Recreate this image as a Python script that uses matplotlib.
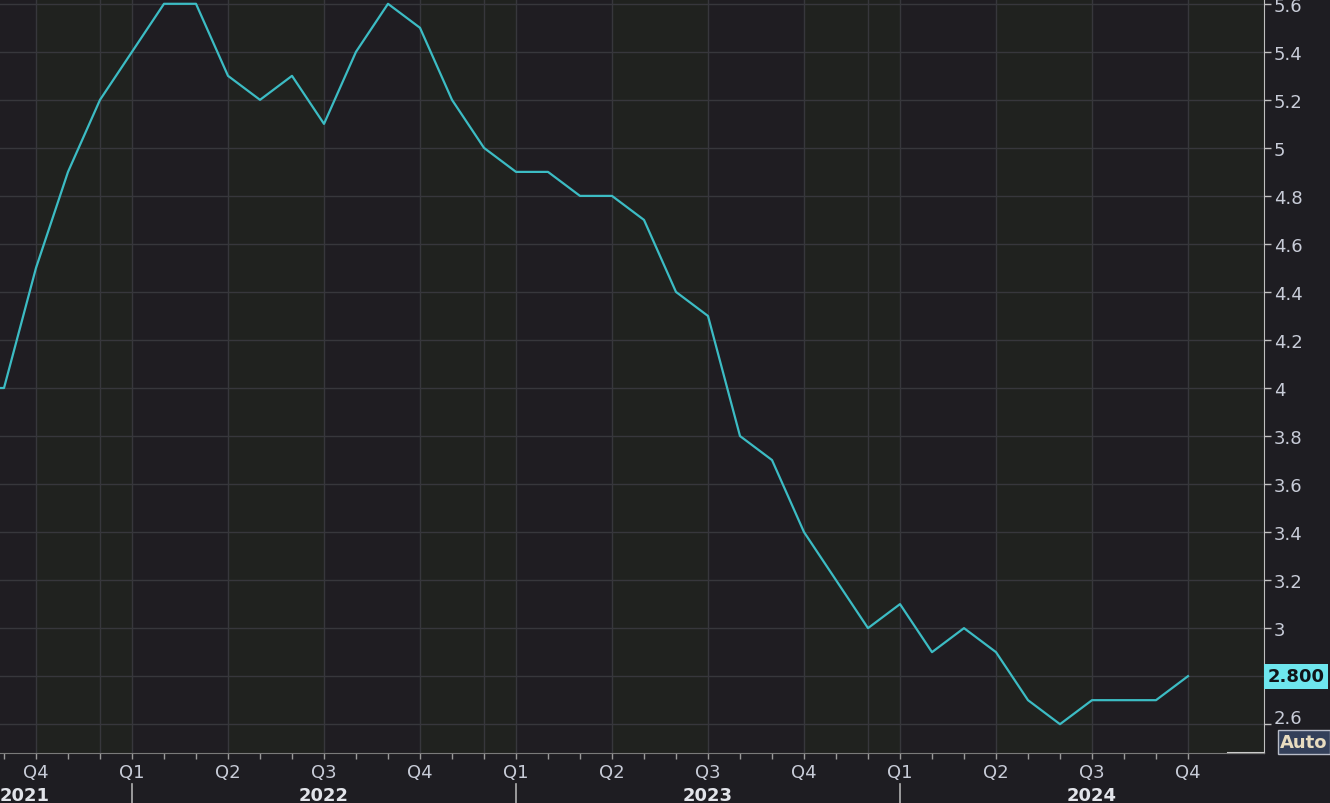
import matplotlib
matplotlib.use('Agg')
import matplotlib.pyplot as plt
import matplotlib.transforms as mtransforms
import pandas as pd

# Monthly series, Aug 2021 .. Oct 2024
months = pd.date_range('2021-08-01', periods=39, freq='MS')
values = [4.0, 4.0, 4.5, 4.9, 5.2, 5.4, 5.6, 5.6, 5.3, 5.2, 5.3, 5.1, 5.4,
          5.6, 5.5, 5.2, 5.0, 4.9, 4.9, 4.8, 4.8, 4.7, 4.4, 4.3, 3.8, 3.7,
          3.4, 3.2, 3.0, 3.1, 2.9, 3.0, 2.9, 2.7, 2.6, 2.7, 2.7, 2.7, 2.8]
y_ticks = [2.6, 2.8, 3.0, 3.2, 3.4, 3.6, 3.8, 4.0, 4.2, 4.4, 4.6, 4.8,
           5.0, 5.2, 5.4, 5.6]
last_label = '2.800'

bg = '#1e1d22'
band_dark = '#1f1d22'
band_green = '#20221f'
grid_col = '#37373c'
line_col = '#3cbcc4'
tick_col = '#c8ccd8'

x = list(range(len(months)))
quarter_idx = [i for i, m in enumerate(months) if m.month in (1, 4, 7, 10)]
dec_idx = [i for i, m in enumerate(months) if m.month == 12]
jan_idx = [i for i, m in enumerate(months) if m.month == 1]
jul_idx = [i for i, m in enumerate(months) if m.month == 7]

fig = plt.figure(figsize=(13.3, 8.04), dpi=100, facecolor=bg)
ax = fig.add_axes([0.0, 1 - 754 / 804, 1264 / 1330, 754 / 804])
ax.set_facecolor(band_dark)

# alternating quarter bands
for k, q in enumerate(quarter_idx):
    ax.axvspan(q, q + 3, color=band_green if k % 2 == 0 else band_dark,
               lw=0, zorder=0)

# grid
for yv in y_ticks:
    ax.axhline(yv, color=grid_col, lw=1, zorder=1)
for xv in quarter_idx + dec_idx:
    ax.axvline(xv, color=grid_col, lw=1, zorder=1)

ax.plot(x, values, color=line_col, lw=1.6, zorder=3)

# y axis on the right
ax.yaxis.tick_right()
ax.set_yticks(y_ticks)
ax.set_yticklabels(['' if abs(v - 2.8) < 1e-9 else f'{v:g}' for v in y_ticks])
ax.tick_params(axis='y', colors='#c0c0c0', labelcolor=tick_col,
               labelsize=13, length=5, width=1, direction='out', pad=2)
# bottom label sits a bit higher, clear of the Auto button
lab = ax.get_yticklabels()[0]
lab.set_transform(lab.get_transform() +
                  mtransforms.ScaledTranslation(0, 8 / 100, fig.dpi_scale_trans))

# x axis: quarter labels, monthly minor ticks
ax.set_xticks(quarter_idx)
ax.set_xticklabels([f'Q{(months[i].month - 1) // 3 + 1}' for i in quarter_idx])
ax.set_xticks(x, minor=True)
ax.tick_params(axis='x', which='both', colors='#9a9a9a', labelcolor=tick_col,
               labelsize=13, length=4, width=1, pad=3)

# limits after the ticks, so the ticks don't widen the view
ax.set_xlim(0.875, 40.375)
ax.set_ylim(2.48, 5.62)

for s in ['top', 'left']:
    ax.spines[s].set_visible(False)
ax.spines['right'].set_color('#c0c0c0')
ax.spines['bottom'].set_color('#7a7a7a')

# year labels and separators
trans = mtransforms.blended_transform_factory(ax.transData, ax.transAxes)
for i in jan_idx:
    ax.plot([i, i], [-0.041, -0.07], color='#b0b0b0', lw=1.2,
            transform=trans, clip_on=False)
for i in jul_idx:
    ax.text(i, -0.056, str(months[i].year), transform=trans, ha='center',
            va='center', fontsize=13, fontweight='bold', color='#e2e4ea')
ax.text(0.0, -0.056, str(months[0].year), transform=ax.transAxes, ha='left',
        va='center', fontsize=13, fontweight='bold', color='#e2e4ea')

# last value box
ytrans = mtransforms.blended_transform_factory(ax.transAxes, ax.transData)
ax.text(1.003, values[-1], last_label, transform=ytrans, ha='left',
        va='center', fontsize=13, fontweight='bold', color='#101418',
        clip_on=False, zorder=10,
        bbox=dict(boxstyle='square,pad=0.2', fc='#6ee6ee', ec='none'))

# small bracket near the corner
ax.plot([1228 / 1264, 1.0], [0, 0], color='#d0d0d0', lw=1.5,
        transform=ax.transAxes, clip_on=False)

fig.text(1304 / 1330, 1 - 743 / 804, 'Auto', ha='center', va='center',
         fontsize=13, fontweight='bold', color='#e8dcc0',
         bbox=dict(boxstyle='square,pad=0.15', fc='#34405a', ec='#b8bcc8',
                   lw=1))

fig.savefig('out.png', dpi=100, facecolor=bg)
